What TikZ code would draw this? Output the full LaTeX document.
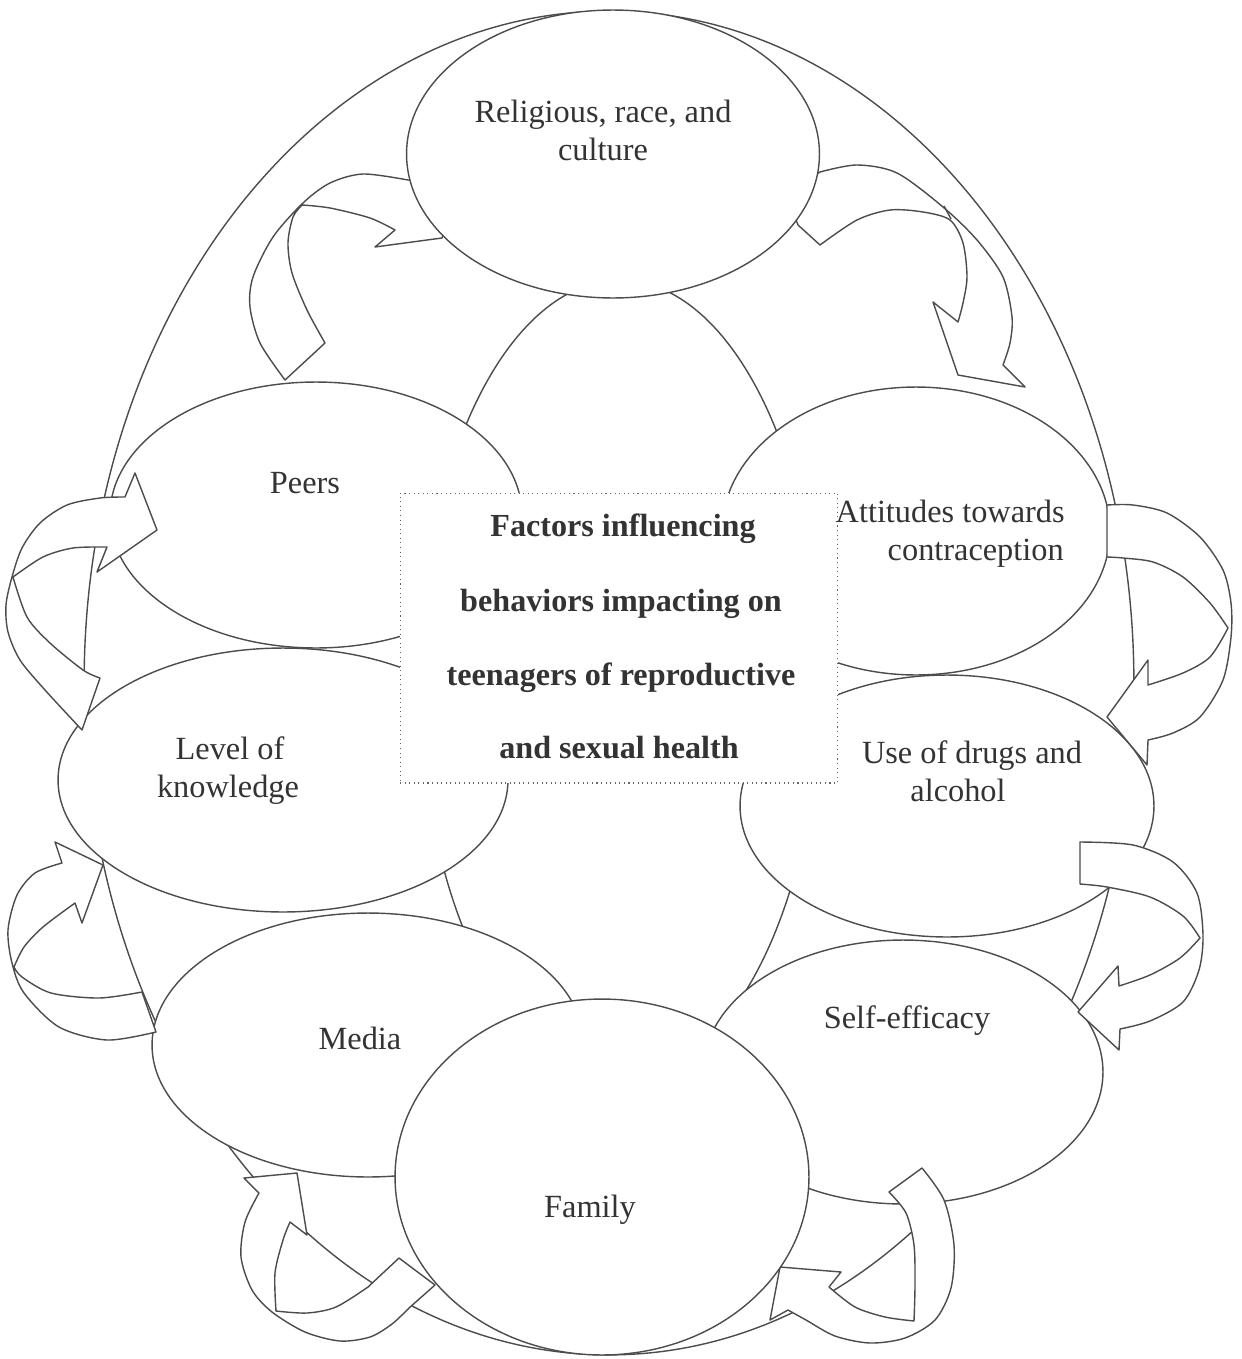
\documentclass[tikz,border=0pt]{standalone}
\usepackage{fontspec}
\setmainfont{Liberation Serif}
\usetikzlibrary{shapes.geometric}

\tikzset{
  factor/.style={ellipse, draw=black!70, fill=white, line width=0.8pt, inner sep=0pt},
  band/.style={draw=black!70, fill=white, line width=0.8pt, line join=round},
  ring/.style={draw=black!70, line width=0.8pt},
  lbl/.style={anchor=base, inner sep=0pt, text=black!80, font=\fontsize{18.4}{22}\selectfont},
  boxlbl/.style={lbl, font=\bfseries\fontsize{18.3}{22}\selectfont},
}

\begin{document}
\begin{tikzpicture}[x=0.02cm, y=-0.02cm]
\useasboundingbox (0,0) rectangle (1241,1359);

% big ring and inner ring
\draw[ring] (609,683) ellipse [x radius=10.5cm, y radius=13.44cm];
\draw[ring] (620,680) ellipse [x radius=4cm, y radius=8cm];

% side factors
\node (peers) at (316,515) [factor, minimum width=8.24cm, minimum height=5.32cm] {};
\node (know) at (283,780) [factor, minimum width=9cm, minimum height=5.28cm] {};
\node (media) at (368,1045) [factor, minimum width=8.64cm, minimum height=5.28cm] {};
\node (att) at (916,531) [factor, minimum width=7.76cm, minimum height=5.76cm] {};
\node (drugs) at (947,806) [factor, minimum width=8.28cm, minimum height=5.24cm] {};
\node (self) at (903,1072) [factor, minimum width=8cm, minimum height=5.28cm] {};

% curved arrows, peers -> religion
\draw[band] plot[smooth] coordinates {(408,180) (363,174) (330,183) (303,203) (273,237) (253,277) (250,307) (260,343) (285,380)}
  -- (325,343)
  -- plot[smooth] coordinates {(325,343) (307,310) (292,273) (288,243) (293,217) (302,205)}
  -- plot[smooth] coordinates {(302,205) (330,208) (370,218) (395,230)}
  -- (375,247) -- (442,238) -- (455,200) -- (420,181) -- cycle;
% religion -> attitudes
\draw[band] (790,205) -- (798,225) -- (820,245)
  -- plot[smooth] coordinates {(820,245) (857,220) (890,210) (923,212) (950,220) (963,243) (967,277) (963,303) (958,322)}
  -- (933,302) -- (958,375) -- (1025,387) -- (1003,365)
  -- plot[smooth] coordinates {(1003,365) (1010,343) (1012,317) (1003,277) (977,240) (943,207) (897,173) (857,165) (820,172)}
  -- (800,185) -- cycle;
\draw[ring] (944,206) -- (951,219);
% attitudes -> drugs
\draw[band] (1107,505)
  -- plot[smooth] coordinates {(1107,505) (1133,505) (1167,513) (1200,537) (1223,570) (1231,603) (1231,637) (1223,680) (1200,717) (1173,733) (1148,740)}
  -- (1147,765) -- (1107,717) -- (1148,660) -- (1148,685)
  -- plot[smooth] coordinates {(1148,685) (1183,673) (1210,657) (1228,628)}
  -- plot[smooth] coordinates {(1228,628) (1210,603) (1183,577) (1153,562) (1123,558) (1107,557)}
  -- cycle;
% drugs -> self-efficacy
\draw[band] plot[smooth] coordinates {(1080,842) (1133,845) (1173,862) (1197,893) (1203,935) (1199,970) (1183,1002) (1150,1021) (1120,1029)}
  -- (1119,1050) -- (1078,1012) -- (1118,966) -- (1119,986)
  -- plot[smooth] coordinates {(1119,986) (1150,975) (1180,958) (1200,938)}
  -- plot[smooth] coordinates {(1200,938) (1183,916) (1150,897) (1107,887) (1080,884)}
  -- cycle;
% self-efficacy -> family
\draw[band] plot[smooth] coordinates {(922,1168) (944,1200) (954,1245) (951,1288) (935,1320) (905,1338) (870,1343) (835,1336) (806,1320) (788,1310)}
  -- (770,1320) -- (780,1267) -- (841,1272) -- (829,1287)
  -- plot[smooth] coordinates {(829,1287) (855,1307) (885,1317) (914,1321)}
  -- plot[smooth] coordinates {(914,1321) (915,1285) (914,1245) (906,1213) (889,1192)}
  -- cycle;
% family -> media
\draw[band] plot[smooth] coordinates {(259,1193) (245,1222) (241,1257) (252,1290) (272,1312) (305,1332) (340,1341) (370,1337) (392,1324) (409,1308)}
  -- (435,1285) -- (399,1258) -- (368,1287)
  -- plot[smooth] coordinates {(368,1287) (336,1307) (307,1313) (276,1311)}
  -- plot[smooth] coordinates {(276,1311) (275,1273) (283,1240) (290,1222)}
  -- (307,1235) -- (297,1173) -- (244,1178) -- cycle;
% media -> knowledge
\draw[band] plot[smooth] coordinates {(62,863) (35,873) (17,895) (8,930) (12,963) (24,993) (59,1027) (107,1040) (156,1032)}
  -- (142,992)
  -- plot[smooth] coordinates {(142,992) (99,998) (51,993) (22,977) (14,967)}
  -- plot[smooth] coordinates {(14,967) (24,947) (43,927) (75,903)}
  -- (82,923) -- (103,865) -- (55,842) -- cycle;
% knowledge -> peers
\draw[band] plot[smooth] coordinates {(125,497) (100,498) (67,505) (40,523) (22,548) (12,577) (6,605) (8,632) (20,660) (45,690) (82,730)}
  -- (100,678)
  -- plot[smooth] coordinates {(100,678) (83,670) (50,643) (27,617) (13,577)}
  -- plot[smooth] coordinates {(13,577) (43,557) (73,548) (107,547)}
  -- (97,572) -- (157,530) -- (135,473) -- cycle;

% top and bottom factors
\node (rel) at (613,154) [factor, minimum width=8.26cm, minimum height=5.76cm] {};
\node (fam) at (602,1177) [factor, minimum width=8.28cm, minimum height=7.12cm] {};

% centre box
\node (box) at (619,638) [draw=black!60, dotted, line width=0.6pt, fill=white, minimum width=8.76cm, minimum height=5.8cm] {};

% texts
\node (relA) at (603,122) [lbl] {Religious, race, and};
\node (relB) at (603,160) [lbl] {culture};
\node (peersT) at (305,493) [lbl] {Peers};
\node (attA) at (1065,522) [lbl, anchor=base east] {Attitudes towards};
\node (attB) at (1064,560) [lbl, anchor=base east] {contraception};
\node (knowA) at (230,759) [lbl] {Level of};
\node (knowB) at (228,797) [lbl] {knowledge};
\node (drugsA) at (972,763) [lbl] {Use of drugs and};
\node (drugsB) at (958,801) [lbl] {alcohol};
\node (mediaT) at (360,1049) [lbl] {Media};
\node (selfT) at (907,1028) [lbl] {Self-efficacy};
\node (famT) at (590,1217) [lbl] {Family};
\node (boxA) at (623,536) [boxlbl] {Factors influencing};
\node (boxB) at (621,611) [boxlbl] {behaviors impacting on};
\node (boxC) at (621,685) [boxlbl] {teenagers of reproductive};
\node (boxD) at (619,758) [boxlbl] {and sexual health};
\end{tikzpicture}
\end{document}
